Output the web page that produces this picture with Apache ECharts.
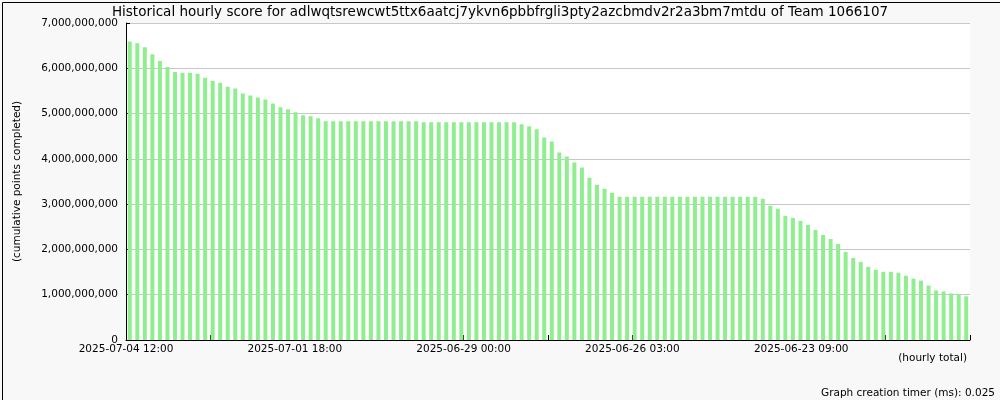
<!DOCTYPE html>
<html>
<head>
<meta charset="utf-8">
<script src="https://cdn.jsdelivr.net/npm/echarts@6/dist/echarts.min.js"></script>
<style>
html,body{margin:0;padding:0;background:#f8f8f8;}
#chart{width:1000px;height:400px;}
</style>
</head>
<body>
<div id="chart"></div>
<script>
// Data (in billions of points)
const scoresBillions = [
  6.594, 6.551, 6.464, 6.312, 6.159, 6.029, 5.920, 5.899, 5.899, 5.877,
  5.790, 5.725, 5.681, 5.594, 5.551, 5.442, 5.399, 5.355, 5.312, 5.225,
  5.138, 5.094, 5.029, 4.963, 4.940, 4.897, 4.831, 4.831, 4.831, 4.831,
  4.831, 4.831, 4.831, 4.831, 4.831, 4.831, 4.831, 4.831, 4.831, 4.809,
  4.809, 4.809, 4.809, 4.809, 4.809, 4.807, 4.807, 4.807, 4.807, 4.807,
  4.807, 4.807, 4.763, 4.719, 4.652, 4.474, 4.385, 4.141, 4.052, 3.919,
  3.807, 3.585, 3.430, 3.341, 3.252, 3.163, 3.163, 3.163, 3.163, 3.163,
  3.163, 3.163, 3.163, 3.163, 3.163, 3.163, 3.163, 3.163, 3.163, 3.163,
  3.163, 3.163, 3.163, 3.163, 3.119, 2.963, 2.896, 2.741, 2.696, 2.630,
  2.541, 2.430, 2.319, 2.230, 2.119, 1.942, 1.811, 1.725, 1.616, 1.551,
  1.507, 1.507, 1.486, 1.420, 1.355, 1.312, 1.203, 1.094, 1.072, 1.029,
  1.007, 0.964
];
const categories = scoresBillions.map((_, i) => String(i + 1));
const xTickLabels = [
  '2025-07-04 12:00', '', '2025-07-01 18:00', '', '2025-06-29 00:00', '',
  '2025-06-26 03:00', '', '2025-06-23 09:00', '', ''
];
const titleText = 'Historical hourly score for adlwqtsrewcwt5ttx6aatcj7ykvn6pbbfrgli3pty2azcbmdv2r2a3bm7mtdu of Team 1066107';
const yAxisName = '(cumulative points completed)';
const xAxisName = '(hourly total)';
const footerText = 'Graph creation timer (ms): 0.025';

const values = scoresBillions.map(v => Math.round(v * 1e9));
const FONT = 'DejaVu Sans';

const chart = echarts.init(document.getElementById('chart'), null, {renderer: 'canvas'});
chart.setOption({
  backgroundColor: '#f8f8f8',
  animation: false,
  title: {
    text: titleText,
    left: 'center',
    top: 0,
    textStyle: {fontFamily: FONT, fontSize: 13.5, fontWeight: 'normal', color: '#000'}
  },
  grid: {
    left: 126, right: 30, top: 23, bottom: 60,
    show: true, backgroundColor: '#ffffff', borderWidth: 0
  },
  xAxis: [
    {
      type: 'category',
      data: categories,
      boundaryGap: true,
      axisLine: {show: true, lineStyle: {color: '#000', width: 1}},
      axisTick: {show: false},
      axisLabel: {show: false},
      splitLine: {show: false}
    },
    {
      type: 'value',
      min: 0, max: 10, interval: 1,
      position: 'bottom',
      axisLine: {show: false},
      axisTick: {show: true, inside: true, length: 5, lineStyle: {color: '#000', width: 1}},
      axisLabel: {
        show: true, margin: 4, color: '#000', fontFamily: FONT, fontSize: 10.5,
        showMinLabel: true, showMaxLabel: true,
        formatter: v => xTickLabels[Math.round(v)] || ''
      },
      splitLine: {show: false}
    }
  ],
  yAxis: {
    type: 'value',
    min: 0, max: 7e9, interval: 1e9,
    name: yAxisName,
    nameLocation: 'middle',
    nameRotate: 90,
    nameGap: 103,
    nameTextStyle: {fontFamily: FONT, fontSize: 10.5, color: '#000'},
    axisLine: {show: true, lineStyle: {color: '#000', width: 1}},
    axisTick: {show: true, inside: true, length: 4, lineStyle: {color: '#000'}},
    axisLabel: {
      margin: 8, color: '#000', fontFamily: FONT, fontSize: 10.5,
      formatter: v => Number(v).toLocaleString('en-US')
    },
    splitLine: {show: true, lineStyle: {color: '#c8c8c8', width: 1}}
  },
  series: [{
    type: 'bar',
    xAxisIndex: 0,
    data: values,
    barWidth: 4,
    itemStyle: {color: '#90ee90'}
  }],
  graphic: [
    {
      type: 'text', right: 33, top: 353,
      style: {text: xAxisName, fontFamily: FONT, fontSize: 10.5, fill: '#000'}
    },
    {
      type: 'text', right: 5, top: 388,
      style: {text: footerText, fontFamily: FONT, fontSize: 10.5, fill: '#000'}
    },
    {
      type: 'rect', left: 0, top: 0, silent: true,
      shape: {x: 0.5, y: 0.5, width: 999, height: 399},
      style: {fill: 'none', stroke: '#000', lineWidth: 1}
    }
  ]
});
</script>
</body>
</html>
